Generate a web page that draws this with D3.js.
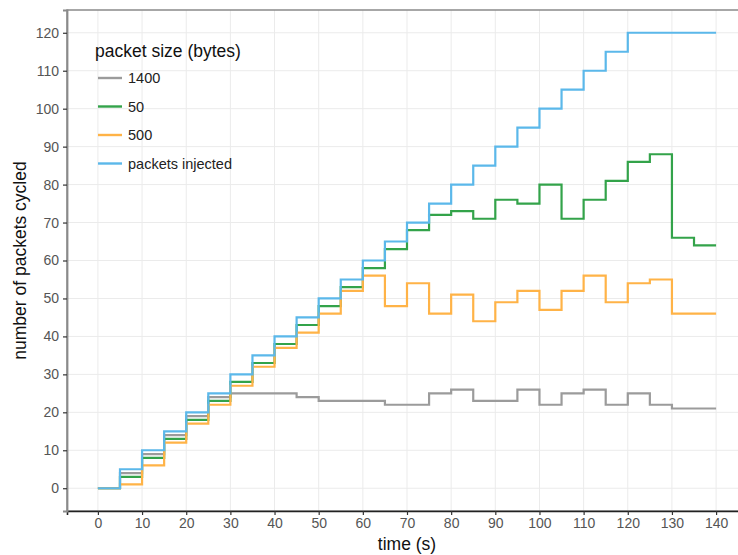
<!DOCTYPE html>
<html><head><meta charset="utf-8">
<script src="https://cdn.jsdelivr.net/npm/d3@7"></script>
<style>body{margin:0;background:#fff;} text{font-family:"Liberation Sans",Arial,sans-serif;}</style>
</head><body>
<svg id="chart" width="738" height="555"></svg>
<script>
const times = d3.range(0, 145, 5);
const xTicks = [0,10,20,30,40,50,60,70,80,90,100,110,120,130,140];
const yTicks = [0,10,20,30,40,50,60,70,80,90,100,110,120];
const seriesNames = ["1400", "50", "500", "packets injected"];
const seriesColors = ["#9b9b9b", "#33a34a", "#ffb347", "#5bb8ea"];
const s1400 = [0,4,9,14,19,24,25,25,25,24,23,23,23,22,22,25,26,23,23,26,22,25,26,22,25,22,21,21,21];
const s50 = [0,3,8,13,18,23,28,33,38,43,48,53,58,63,68,72,73,71,76,75,80,71,76,81,86,88,66,64,64];
const s500 = [0,1,6,12,17,22,27,32,37,41,46,52,56,48,54,46,51,44,49,52,47,52,56,49,54,55,46,46,46];
const sInjected = [0,5,10,15,20,25,30,35,40,45,50,55,60,65,70,75,80,85,90,95,100,105,110,115,120,120,120,120,120];
const allSeries = [s1400, s50, s500, sInjected];

const svg = d3.select("#chart");
const L = 67, R = 747, T = 10, B = 511;
const x = d3.scaleLinear().domain([-7, 147]).range([L, R]);
const y = d3.scaleLinear().domain([-6, 126]).range([B, T]);

// grid
svg.append("g").selectAll("line").data(xTicks).join("line")
  .attr("x1", d => x(d)).attr("x2", d => x(d)).attr("y1", T).attr("y2", B)
  .attr("stroke", "#ebebeb").attr("stroke-width", 1);
svg.append("g").selectAll("line").data(yTicks).join("line")
  .attr("x1", L).attr("x2", R).attr("y1", d => y(d)).attr("y2", d => y(d))
  .attr("stroke", "#ebebeb").attr("stroke-width", 1);

// panel border
svg.append("rect").attr("x", L).attr("y", T).attr("width", R - L).attr("height", B - T)
  .attr("fill", "none").attr("stroke", "#8a8a8a").attr("stroke-width", 1.5);

// lines
const line = d3.line().x((d, i) => x(times[i])).y(d => y(d)).curve(d3.curveStepAfter);
allSeries.forEach((s, k) => {
  svg.append("path").datum(s).attr("d", line).attr("fill", "none")
    .attr("stroke", seriesColors[k]).attr("stroke-width", 2.2);
});

// axes
const gx = svg.append("g").attr("transform", `translate(0,${B})`)
  .call(d3.axisBottom(x).tickValues(xTicks).tickSize(4).tickPadding(3));
gx.select(".domain").attr("stroke", "#222").attr("stroke-width", 1.6);
gx.selectAll(".tick line").attr("stroke", "#333").attr("stroke-width", 1.2);
gx.selectAll(".tick text").attr("fill", "#555").attr("font-size", 14).attr("font-family", "Liberation Sans, Arial, sans-serif");

const gy = svg.append("g").attr("transform", `translate(${L},0)`)
  .call(d3.axisLeft(y).tickValues(yTicks).tickSize(4).tickPadding(4));
gy.select(".domain").attr("stroke", "#8a8a8a").attr("stroke-width", 1.8);
gy.selectAll(".tick line").attr("stroke", "#333").attr("stroke-width", 1.2);
gy.selectAll(".tick text").attr("fill", "#555").attr("font-size", 14).attr("font-family", "Liberation Sans, Arial, sans-serif");

// axis titles
svg.append("text").attr("x", x(70)).attr("y", 550).attr("text-anchor", "middle")
  .attr("font-size", 17.5).attr("fill", "#111").text("time (s)");
svg.append("text").attr("transform", `translate(26,${(T + B) / 2}) rotate(-90)`)
  .attr("text-anchor", "middle").attr("font-size", 17.5).attr("fill", "#111").text("number of packets cycled");

// legend
const lg = svg.append("g");
lg.append("text").attr("x", 95).attr("y", 57).attr("font-size", 17.5).attr("fill", "#111").text("packet size (bytes)");
seriesNames.forEach((n, k) => {
  const yy = 78 + k * 28.5;
  lg.append("line").attr("x1", 98).attr("x2", 122).attr("y1", yy).attr("y2", yy)
    .attr("stroke", seriesColors[k]).attr("stroke-width", 2.4);
  lg.append("text").attr("x", 128).attr("y", yy + 5).attr("font-size", 14.5).attr("fill", "#222").text(n);
});
</script>
</body></html>
